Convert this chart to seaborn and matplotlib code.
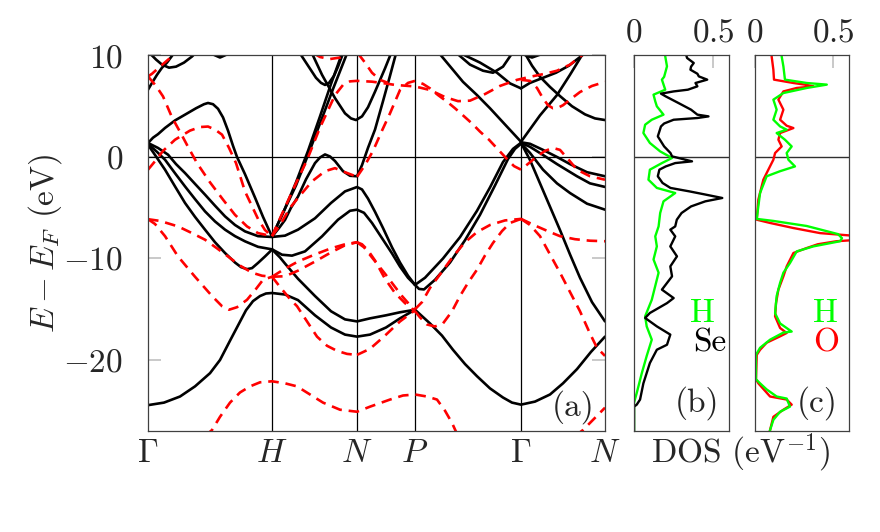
import numpy as np
import pandas as pd
import matplotlib
matplotlib.use("Agg")
import matplotlib.pyplot as plt
import seaborn as sns

# k-path (path length, arb. units) and high symmetry points
k_ticks = [0, 124, 209, 267, 373, 457]
k_labels = [r'$\Gamma$', r'$H$', r'$N$', r'$P$', r'$\Gamma$', r'$N$']

# ---- H3Se bands (black, solid) ----
k_se1 = [0, 4, 9, 14, 19, 25, 28]
e_se1 = [6.63, 7.3, 8.1, 8.8, 9.3, 10.1, 10.5]
k_se2 = [1, 8, 14, 21, 28, 36, 44, 48]
e_se2 = [10.3, 9.6, 9.1, 8.8, 8.9, 9.3, 9.9, 10.3]
k_se3 = [64, 72, 80]
e_se3 = [10.15, 9.8, 10.15]
k_se4 = [0, 5, 10, 17, 27, 37, 48, 56, 60, 65, 70, 75, 80, 85, 89, 97, 107, 115, 124]
e_se4 = [1.38, 1.9, 2.25, 2.86, 3.6, 4.17, 4.8, 5.2, 5.32, 5.2, 4.75, 3.9, 2.6, 1.1, 0.0, -1.7, -4.0, -5.9, -7.85]
k_se5 = [0, 10, 20, 28, 37, 47, 57, 67, 77, 87, 97, 110, 124]
e_se5 = [1.38, 0.89, 0.23, -0.7, -1.58, -2.65, -3.71, -4.8, -5.85, -6.7, -7.33, -7.8, -7.88]
k_se6 = [0, 9, 17, 27, 37, 47, 57, 67, 77, 87, 97, 110, 124]
e_se6 = [1.3, 0.5, -0.27, -1.6, -2.9, -4.15, -5.36, -6.35, -7.16, -7.8, -8.31, -8.85, -9.1]
k_se7 = [0, 7, 17, 27, 37, 47, 57, 67, 77, 87, 93, 99, 104, 110, 117, 124]
e_se7 = [1.2, 0.2, -1.25, -2.9, -4.53, -5.9, -7.16, -8.4, -9.46, -10.4, -10.85, -11.05, -10.95, -10.44, -9.8, -9.13]
k_se8 = [0, 16, 32, 47, 62, 72, 82, 90, 98, 105, 112, 118, 124, 137, 150, 167, 183, 197, 209,
         222, 238, 252, 267, 282, 294, 305, 317, 329, 342, 355, 364, 373, 387, 402, 415, 429, 443, 457]
e_se8 = [-24.45, -24.2, -23.6, -22.6, -21.3, -20.0, -18.1, -16.6, -15.1, -14.2, -13.7, -13.45, -13.4,
         -13.55, -14.1, -15.6, -16.8, -17.5, -17.7, -17.5, -16.8, -15.9, -15.05, -16.4, -17.6, -19.0,
         -20.4, -21.6, -22.8, -23.7, -24.2, -24.4, -24.1, -23.4, -22.3, -20.9, -19.2, -17.7]
k_se9 = [124, 132, 137, 150, 167, 183, 197, 209, 222, 238, 252, 267]
e_se9 = [-9.1, -9.9, -10.5, -12.0, -13.7, -15.2, -16.0, -16.2, -15.9, -15.6, -15.3, -15.05]
k_se10 = [124, 131, 137, 143, 150, 158, 167, 172, 177, 182, 187, 195, 202, 209, 214, 220, 227, 235, 242, 248]
e_se10 = [-7.85, -7.0, -6.2, -5.0, -3.9, -2.2, -0.6, -0.05, 0.25, 0.05, -0.4, -1.4, -1.85, -1.9, -0.8, 0.9, 2.7, 5.5, 8.0, 10.2]
k_se11 = [124, 137, 150, 167, 183, 197, 209, 214, 220, 227, 235, 244, 252, 260, 267]
e_se11 = [-7.88, -7.75, -7.16, -6.04, -4.53, -3.39, -2.96, -3.2, -4.1, -5.4, -7.0, -8.9, -10.4, -11.7, -12.6]
k_se12 = [124, 134, 144, 157, 174, 190, 202, 209, 216, 224, 234, 244, 252, 260, 267]
e_se12 = [-9.1, -9.63, -9.72, -9.3, -7.82, -6.18, -5.3, -5.19, -5.5, -6.5, -8.0, -9.5, -10.8, -11.9, -12.6]
k_se13 = [124, 135, 148, 160, 172, 185, 199]
e_se13 = [-7.85, -5.5, -2.8, 0.2, 3.3, 6.7, 10.2]
k_se14 = [124, 136, 148, 160, 172, 183, 194]
e_se14 = [-7.85, -5.3, -2.5, 0.6, 4.0, 7.2, 10.2]
k_se15 = [152, 160, 168, 173, 177, 181, 186, 190, 195]
e_se15 = [10.2, 9.0, 7.8, 7.3, 7.1, 7.3, 8.0, 8.9, 10.2]
k_se16 = [164, 174, 187, 197, 203, 208, 214, 220, 227, 237, 243]
e_se16 = [10.2, 8.1, 5.8, 4.3, 3.8, 3.64, 4.0, 4.9, 6.43, 8.73, 10.2]
k_se17 = [267, 277, 295, 312, 329, 342, 355, 365, 373]
e_se17 = [-12.6, -11.9, -10.0, -7.9, -5.3, -3.0, -0.5, 0.8, 1.4]
k_se18 = [267, 271, 276, 287, 302, 317, 332, 347, 360, 367, 373]
e_se18 = [-12.6, -13.0, -13.05, -12.1, -10.4, -8.2, -5.7, -2.8, -0.2, 0.8, 1.3]
k_se19 = [289, 293, 304, 315, 329, 342, 357, 373]
e_se19 = [10.4, 10.0, 8.7, 7.4, 6.1, 4.8, 3.2, 1.5]
k_se20 = [373, 392, 409, 422, 435]
e_se20 = [1.5, 4.1, 6.1, 8.1, 10.2]
k_se21 = [373, 382, 392, 402, 412, 422, 432, 444, 457]
e_se21 = [1.4, -0.3, -2.6, -4.9, -7.2, -9.6, -11.9, -14.3, -16.2]
k_se22 = [373, 382, 395, 409, 422, 439, 457]
e_se22 = [1.45, 1.3, 0.7, 0.0, -0.7, -1.5, -1.9]
k_se23 = [373, 382, 395, 409, 429, 442, 457]
e_se23 = [1.4, 1.0, 0.2, -0.7, -1.9, -2.6, -2.95]
k_se24 = [373, 382, 395, 409, 422, 439, 457]
e_se24 = [1.35, 0.4, -1.25, -2.6, -3.55, -4.6, -5.19]
k_se25 = [309, 322, 335, 345, 355, 364]
e_se25 = [10.2, 9.1, 8.5, 8.3, 8.9, 10.2]
k_se26 = [315, 332, 349, 362, 373]
e_se26 = [10.1, 9.3, 8.3, 7.25, 6.76]
k_se27 = [373, 382, 395, 408, 421, 434, 438]
e_se27 = [6.76, 7.3, 7.8, 8.3, 9.0, 10.0, 10.3]
k_se28 = [377, 384, 392, 402, 412, 424, 437, 447, 457]
e_se28 = [10.2, 9.0, 7.9, 6.9, 6.0, 5.0, 4.2, 3.8, 3.64]
k_se29 = [374, 384, 394]
e_se29 = [10.15, 9.8, 10.15]

# ---- H3O bands (red, dashed) ----
k_o1 = [0, 8, 15, 24, 33, 40, 49, 62, 75, 87, 99, 110, 124]
e_o1 = [7.94, 7.0, 5.97, 3.9, 2.3, 1.0, -0.6, -2.5, -4.2, -5.7, -6.84, -7.5, -7.8]
k_o2 = [0, 8, 15, 27, 42, 52, 60, 67, 74, 81, 88, 97, 110, 117, 124]
e_o2 = [-1.25, -0.3, 0.6, 1.7, 2.6, 2.95, 3.0, 2.7, 2.2, 0.9, -0.6, -3.4, -6.1, -7.2, -7.8]
k_o3 = [0, 12, 30, 44, 57, 69, 80, 92, 104, 114, 124]
e_o3 = [-6.13, -6.3, -6.84, -7.5, -8.15, -9.0, -9.8, -10.7, -11.4, -11.7, -11.8]
k_o4 = [0, 7, 17, 30, 47, 64, 74, 81, 89, 99, 108, 115, 124]
e_o4 = [-6.13, -6.6, -7.8, -9.8, -11.8, -13.7, -14.7, -15.05, -14.8, -14.07, -13.0, -12.1, -11.8]
k_o5 = [0, 4, 12, 22, 27]
e_o5 = [7.94, 8.2, 8.9, 9.75, 10.3]
k_o6 = [57, 64, 72, 82, 92, 102, 112, 124, 137, 149, 162, 175, 192, 209, 222, 242, 255, 267, 279, 289, 297, 304, 310]
e_o6 = [-27.5, -26.9, -25.6, -24.2, -23.2, -22.6, -22.2, -22.1, -22.3, -22.6, -23.4, -24.2, -24.9,
        -25.1, -24.6, -23.9, -23.5, -23.4, -23.6, -23.9, -25.0, -26.2, -27.5]
k_o7 = [427, 435, 444, 452, 457]
e_o7 = [-27.5, -26.9, -26.0, -25.2, -24.7]
k_o8 = [124, 135, 147, 159, 172, 187, 195, 202, 209, 224, 237, 247, 267, 282, 297, 310, 322, 337,
        352, 369, 382, 397, 409, 422, 435, 438]
e_o8 = [-7.8, -5.4, -2.8, -0.3, 2.9, 6.1, 7.1, 7.45, 7.5, 7.42, 7.25, 7.1, 6.95, 6.6, 5.9, 5.5, 5.55,
        6.2, 7.0, 7.6, 7.9, 8.2, 8.5, 9.1, 10.1, 10.4]
k_o9 = [373, 382, 389, 395, 400, 405, 410, 415, 424, 432, 444, 457]
e_o9 = [7.6, 7.5, 6.8, 5.77, 5.1, 4.8, 4.85, 5.1, 5.8, 6.4, 7.0, 7.4]
k_o10 = [166, 172, 182, 192, 200]
e_o10 = [10.2, 9.85, 9.65, 9.8, 10.2]
k_o11 = [210, 217, 224, 232, 240]
e_o11 = [10.2, 9.3, 8.3, 7.6, 7.3]
k_o12 = [124, 132, 142, 152, 164, 177, 187, 197, 209]
e_o12 = [-7.8, -6.7, -5.0, -3.8, -2.4, -1.4, -1.1, -1.5, -1.95]
k_o13 = [209, 217, 225, 234, 242, 252, 260, 267, 275, 282, 290, 299, 307, 315, 324, 332, 341, 349,
         359, 366, 373, 381, 389, 397, 405, 412, 420, 429, 442, 457]
e_o13 = [-1.95, -0.8, 0.6, 2.6, 4.3, 6.6, 7.3, 7.5, 7.2, 6.76, 6.1, 5.45, 4.8, 4.1, 3.3, 2.5, 1.7,
         0.85, -0.2, -0.9, -1.25, -0.6, 0.06, 0.6, 0.89, 0.7, -0.2, -1.25, -1.9, -2.24]
k_o14 = [124, 137, 150, 167, 183, 197, 209]
e_o14 = [-11.8, -11.75, -11.2, -10.3, -9.4, -8.7, -8.4]
k_o15 = [124, 137, 150, 167, 183, 197, 209]
e_o15 = [-11.8, -11.0, -10.3, -9.6, -9.0, -8.6, -8.4]
k_o16 = [124, 132, 142, 149, 159, 169, 179, 189, 199, 209]
e_o16 = [-11.8, -12.8, -14.0, -14.7, -16.2, -17.7, -18.6, -19.1, -19.4, -19.5]
k_o17 = [209, 216, 224, 237, 247, 254, 262, 267]
e_o17 = [-8.4, -8.9, -9.9, -11.5, -12.8, -13.7, -14.6, -15.05]
k_o18 = [209, 214, 220, 227, 237, 247, 257, 267]
e_o18 = [-8.4, -8.6, -9.2, -10.2, -12.0, -13.4, -14.4, -15.2]
k_o19 = [209, 222, 237, 252, 267]
e_o19 = [-19.5, -18.9, -17.6, -16.2, -15.1]
k_o20 = [267, 272, 279, 287, 295, 304, 312, 320, 329, 337, 345, 354, 362, 373]
e_o20 = [-15.2, -15.8, -16.5, -16.7, -16.4, -15.2, -13.7, -12.4, -11.1, -9.7, -8.47, -7.3, -6.5, -6.1]
k_o21 = [267, 274, 282, 294, 305, 317, 329, 342, 357, 373]
e_o21 = [-15.0, -14.3, -12.9, -11.3, -9.8, -8.4, -7.4, -6.7, -6.25, -6.1]
k_o22 = [373, 389, 402, 412, 427, 442, 457]
e_o22 = [-6.1, -6.84, -7.4, -7.8, -8.1, -8.25, -8.3]
k_o23 = [373, 382, 392, 402, 412, 422, 432, 442, 449, 457]
e_o23 = [-6.1, -6.7, -7.8, -9.6, -11.4, -13.3, -15.2, -17.4, -18.8, -19.6]

# ---- DOS, panel (b): H3Se ----
e_b_se = [10.0, 9.75, 9.26, 8.9, 8.6, 8.2, 7.94, 7.62, 7.29, 6.96, 6.63, 6.46, 6.24, 5.97, 5.32, 4.66,
          4.17, 4.0, 3.84, 3.67, 3.3, 3.01, 2.03, 1.04, 0.39, 0.06, -0.43, -0.6, -0.93, -1.25, -1.9,
          -2.56, -3.05, -3.39, -3.7, -4.04, -4.37, -4.87, -5.52, -6.18, -6.84, -7.16, -7.82, -8.81,
          -9.79, -10.78, -11.76, -13.07, -13.9, -14.4, -15.37, -15.86, -16.69, -17.5, -18.5, -18.99,
          -20.3, -22.3, -23.9, -24.4, -24.6, -27.0]
dos_b_se = [0.33, 0.335, 0.377, 0.36, 0.356, 0.40, 0.409, 0.462, 0.388, 0.40, 0.34, 0.25, 0.17, 0.20,
            0.28, 0.36, 0.40, 0.47, 0.40, 0.25, 0.19, 0.17, 0.15, 0.19, 0.23, 0.24, 0.366, 0.26, 0.20,
            0.16, 0.15, 0.18, 0.23, 0.35, 0.45, 0.557, 0.45, 0.36, 0.30, 0.27, 0.26, 0.229, 0.26,
            0.229, 0.271, 0.229, 0.24, 0.176, 0.25, 0.208, 0.10, 0.07, 0.144, 0.229, 0.208, 0.144,
            0.10, 0.059, 0.038, 0.017, 0.0, 0.0]
e_b_h = [10.0, 9.91, 8.93, 7.9, 7.62, 6.63, 6.14, 5.48, 4.99, 4.17, 3.67, 3.18, 2.36, 1.38, 0.55, -0.1,
         -0.6, -1.25, -2.24, -3.05, -3.55, -4.37, -5.52, -6.84, -7.82, -8.81, -10.1, -11.4, -12.7,
         -14.07, -15.7, -16.7, -18.0, -19.6, -21.3, -23.25, -24.2, -27.0]
dos_b_h = [0.197, 0.197, 0.208, 0.19, 0.176, 0.197, 0.123, 0.134, 0.144, 0.186, 0.112, 0.07, 0.059,
           0.10, 0.165, 0.24, 0.176, 0.10, 0.091, 0.144, 0.26, 0.186, 0.165, 0.155, 0.134, 0.144,
           0.123, 0.155, 0.134, 0.112, 0.07, 0.08, 0.112, 0.08, 0.049, 0.017, 0.0, 0.0]

# ---- DOS, panel (c): H3O ----
e_c_o = [10.0, 9.91, 8.6, 7.62, 7.29, 7.1, 6.96, 6.8, 6.46, 5.65, 4.66, 3.67, 3.08, 2.85, 2.36, 1.7,
         1.04, 0.39, -0.27, -1.25, -2.24, -4.21, -6.18, -6.5, -7.0, -7.5, -7.75, -8.0, -8.2, -8.3,
         -8.6, -8.97, -9.46, -10.78, -11.76, -13.07, -14.4, -15.7, -16.85, -17.34, -17.67, -18.3,
         -19.0, -19.5, -21.9, -22.3, -23.6, -23.9, -24.4, -24.9, -25.6, -26.9, -27.3]
dos_c_o = [0.106, 0.106, 0.117, 0.121, 0.245, 0.33, 0.372, 0.266, 0.181, 0.149, 0.181, 0.16, 0.202,
           0.245, 0.16, 0.149, 0.17, 0.128, 0.117, 0.085, 0.053, 0.021, 0.011, 0.096, 0.245, 0.415,
           0.62, 0.75, 0.62, 0.52, 0.40, 0.33, 0.245, 0.202, 0.181, 0.149, 0.134, 0.128, 0.16, 0.202,
           0.16, 0.074, 0.032, 0.011, 0.006, 0.021, 0.096, 0.202, 0.234, 0.181, 0.117, 0.096, 0.09]
e_c_h = [10.0, 9.91, 8.93, 7.62, 7.29, 7.13, 6.8, 6.3, 5.65, 4.66, 3.67, 3.01, 2.69, 2.36, 1.7, 1.04,
         0.39, -0.27, -0.93, -1.4, -1.9, -3.55, -4.87, -6.1, -6.3, -6.8, -7.6, -8.0, -8.3, -8.81, -9.3,
         -10.45, -11.4, -12.4, -13.7, -15.4, -16.4, -17.2, -17.3, -18.0, -18.8, -19.5, -21.9, -22.3,
         -22.9, -23.6, -23.8, -24.6, -25.1, -25.9, -26.9, -27.3]
dos_c_h = [0.17, 0.17, 0.181, 0.191, 0.33, 0.458, 0.33, 0.181, 0.117, 0.138, 0.117, 0.16, 0.202,
           0.138, 0.191, 0.234, 0.202, 0.213, 0.255, 0.16, 0.074, 0.032, 0.021, 0.011, 0.117, 0.33,
           0.53, 0.555, 0.543, 0.372, 0.266, 0.223, 0.181, 0.16, 0.138, 0.128, 0.16, 0.234, 0.181,
           0.096, 0.032, 0.006, 0.006, 0.032, 0.074, 0.138, 0.202, 0.223, 0.16, 0.117, 0.096, 0.09]

se_bands = [(k_se1, e_se1), (k_se2, e_se2), (k_se3, e_se3), (k_se4, e_se4), (k_se5, e_se5),
            (k_se6, e_se6), (k_se7, e_se7), (k_se8, e_se8), (k_se9, e_se9), (k_se10, e_se10),
            (k_se11, e_se11), (k_se12, e_se12), (k_se13, e_se13), (k_se14, e_se14), (k_se15, e_se15),
            (k_se16, e_se16), (k_se17, e_se17), (k_se18, e_se18), (k_se19, e_se19), (k_se20, e_se20),
            (k_se21, e_se21), (k_se22, e_se22), (k_se23, e_se23), (k_se24, e_se24), (k_se25, e_se25),
            (k_se26, e_se26), (k_se27, e_se27), (k_se28, e_se28), (k_se29, e_se29)]
o_bands = [(k_o1, e_o1), (k_o2, e_o2), (k_o3, e_o3), (k_o4, e_o4), (k_o5, e_o5), (k_o6, e_o6),
           (k_o7, e_o7), (k_o8, e_o8), (k_o9, e_o9), (k_o10, e_o10), (k_o11, e_o11), (k_o12, e_o12),
           (k_o13, e_o13), (k_o14, e_o14), (k_o15, e_o15), (k_o16, e_o16), (k_o17, e_o17),
           (k_o18, e_o18), (k_o19, e_o19), (k_o20, e_o20), (k_o21, e_o21), (k_o22, e_o22),
           (k_o23, e_o23)]


def to_long(bands):
    frames = []
    for i, (k, e) in enumerate(bands):
        frames.append(pd.DataFrame({'k': k, 'E': e, 'band': i}))
    return pd.concat(frames, ignore_index=True)


sns.set_theme(style="white")
FS = 24
plt.rcParams.update({
    'font.family': 'cmr10',
    'mathtext.fontset': 'cm',
    'axes.unicode_minus': False,
    'axes.formatter.use_mathtext': True,
    'font.size': FS,
})

GREEN = '#00ff00'
RED = '#ff0000'
TICKC = '#c0c0c0'
SPINEC = '#404040'
ylim = (-27, 10)

fig = plt.figure(figsize=(8.8, 5.32), dpi=100)
ax = fig.add_axes([0.1682, 0.1898, 0.5193, 0.7059])
axb = fig.add_axes([0.7205, 0.1898, 0.1080, 0.7059])
axc = fig.add_axes([0.8580, 0.1898, 0.1068, 0.7059])

# (a) band structure
for k in k_ticks[1:-1]:
    ax.axvline(k, color='black', lw=0.9, zorder=1)
ax.axhline(0, color='black', lw=0.9, zorder=1)

sns.lineplot(data=to_long(se_bands), x='k', y='E', units='band', estimator=None, sort=False,
             color='black', lw=1.9, ax=ax, legend=False)
sns.lineplot(data=to_long(o_bands), x='k', y='E', units='band', estimator=None, sort=False,
             color=RED, lw=1.9, linestyle=(0, (4.0, 2.6)), ax=ax, legend=False)

ax.set_xlim(k_ticks[0], k_ticks[-1])
ax.set_ylim(*ylim)
ax.set_xticks(k_ticks, k_labels)
ax.set_yticks([-20, -10, 0, 10], ['$-20$', '$-10$', '$0$', '$10$'])
ax.tick_params(axis='x', length=0, pad=6, labelsize=FS)
ax.tick_params(axis='y', direction='in', length=9.5, width=1.2, color=TICKC,
               left=True, right=True, pad=18, labelsize=FS)
ax.set_xlabel('')
ax.set_ylabel('')
ax.text(0.931, 0.063, '(a)', transform=ax.transAxes, ha='center', va='center', fontsize=FS)

# (b) and (c) DOS
sns.lineplot(x=dos_b_h, y=e_b_h, sort=False, estimator=None, orient='y', color=GREEN, lw=1.7, ax=axb)
sns.lineplot(x=dos_b_se, y=e_b_se, sort=False, estimator=None, orient='y', color='black', lw=1.7, ax=axb)
sns.lineplot(x=dos_c_o, y=e_c_o, sort=False, estimator=None, orient='y', color=RED, lw=1.7, ax=axc)
sns.lineplot(x=dos_c_h, y=e_c_h, sort=False, estimator=None, orient='y', color=GREEN, lw=1.7, ax=axc)

for a in (axb, axc):
    a.axhline(0, color='#303030', lw=1.0, zorder=1)
    a.set_xlim(0, 0.6)
    a.set_ylim(*ylim)
    a.set_yticks([])
    a.xaxis.tick_top()
    a.set_xticks([0, 0.5], ['$0$', '$0.5$'])
    a.tick_params(axis='x', direction='in', length=9.5, width=1.2, color=TICKC,
                  top=True, bottom=False, pad=6, labelsize=FS)
    a.set_xlabel('')
    a.set_ylabel('')

axb.text(0.66, 0.075, '(b)', transform=axb.transAxes, ha='center', va='center', fontsize=FS)
axc.text(0.665, 0.075, '(c)', transform=axc.transAxes, ha='center', va='center', fontsize=FS)
axb.text(0.721, 0.314, 'H', color=GREEN, transform=axb.transAxes, ha='center', va='center', fontsize=FS)
axb.text(0.80, 0.234, 'Se', color='black', transform=axb.transAxes, ha='center', va='center', fontsize=FS)
axc.text(0.755, 0.314, 'H', color=GREEN, transform=axc.transAxes, ha='center', va='center', fontsize=FS)
axc.text(0.755, 0.234, 'O', color=RED, transform=axc.transAxes, ha='center', va='center', fontsize=FS)

for a in (ax, axb, axc):
    for s in a.spines.values():
        s.set_color(SPINEC)
        s.set_linewidth(0.9)

fig.text(45 / 880, 1 - 243 / 532, r'$E - E_F$ (eV)', rotation=90, ha='center', va='center', fontsize=FS)
fig.text(740 / 880, 1 - 453 / 532, r'DOS (eV$^{-1}$)', ha='center', va='center', fontsize=FS)

fig.savefig('out.png', dpi=100)
